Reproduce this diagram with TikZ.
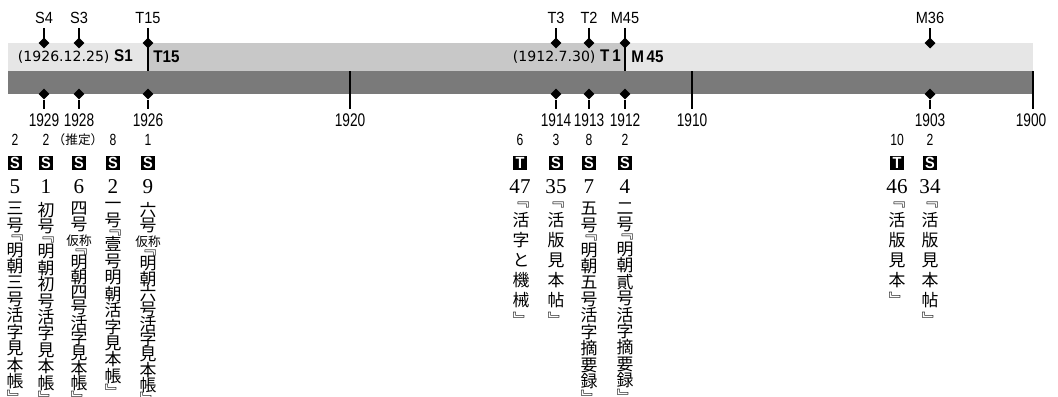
\documentclass[tikz,border=0pt]{standalone}
\usepackage{fontspec}
\usepackage{tikz}
\usetikzlibrary{shapes.geometric}
\newfontfamily\jpfont{Noto Sans CJK JP}
\newfontfamily\tagfont[FakeStretch=0.9]{Liberation Sans}
\newfontfamily\numfont[FakeStretch=0.75]{Liberation Sans}
\newfontfamily\datefont{DejaVu Sans}
\newfontfamily\serialfont{Liberation Serif}
\definecolor{eralight}{HTML}{E6E6E6}
\definecolor{eramid}{HTML}{C8C8C8}
\definecolor{bardark}{HTML}{7A7A7A}
\lineskiplimit=-20pt

\begin{document}
\begin{tikzpicture}[x=0.025cm, y=-0.025cm,
    dia/.style={diamond, fill=black, inner sep=0pt, minimum size=0.28cm},
    toplab/.style={font=\tagfont\fontsize{11.5}{11.5}\selectfont, inner sep=0.1cm},
    yearlab/.style={font=\numfont\fontsize{13}{13}\selectfont, inner sep=0.1cm},
    monlab/.style={font=\numfont\fontsize{11.5}{11.5}\selectfont, inner sep=0pt},
    badge/.style={fill=black, text=white, font=\tagfont\bfseries\fontsize{11.5}{11.5}\selectfont, minimum width=0.33cm, minimum height=0.37cm, inner sep=0pt},
    numlab/.style={font=\serialfont\fontsize{15}{15}\selectfont, inner sep=0pt},
    jcol/.style={anchor=north, align=center, inner sep=0pt, font=\jpfont\fontsize{12}{11.7}\selectfont},
    notecol/.style={jcol, font=\jpfont\fontsize{12}{10.8}\selectfont},
    shortcol/.style={jcol, font=\jpfont\fontsize{12}{14.2}\selectfont},
    stem/.style={line width=1pt}]
  \useasboundingbox (0,0) rectangle (1058,396);
  \fill[eralight] (8,43) rectangle (148,71);
  \fill[eramid] (148,43) rectangle (625,71);
  \fill[eralight] (625,43) rectangle (1033,71);
  \fill[bardark] (8,71) rectangle (1033,94);

  \node (showa) [anchor=east, inner sep=0pt] at (133,57) {{\datefont\fontsize{10}{10}\selectfont (1926.12.25)} {\tagfont\bfseries\fontsize{12}{12}\selectfont S1}};
  \node (taisho) [anchor=west, inner sep=0pt] at (153,57) {\tagfont\bfseries\fontsize{12}{12}\selectfont T15};
  \node (taisho2) [anchor=east, inner sep=0pt] at (621,57) {{\datefont\fontsize{10}{10}\selectfont (1912.7.30)} {\tagfont\bfseries\fontsize{12}{12}\selectfont T\,1}};
  \node (meiji) [anchor=west, inner sep=0pt] at (631,57) {\tagfont\bfseries\fontsize{12}{12}\selectfont M\,45};

  % top markers
  \node (S4) [toplab] at (44,18) {S4};
  \node (S3) [toplab] at (79,18) {S3};
  \node (T15) [toplab] at (148,18) {T15};
  \node (T3) [toplab] at (556,18) {T3};
  \node (T2) [toplab] at (589,18) {T2};
  \node (M45) [toplab] at (625,18) {M45};
  \node (M36) [toplab] at (930,18) {M36};
  \coordinate (eT15) at (148,71);
  \coordinate (eM45) at (625,71);
  \draw[stem] (S4) -- (44,43) (S3) -- (79,43) (T15) -- (eT15) (T3) -- (556,43) (T2) -- (589,43) (M45) -- (eM45) (M36) -- (930,43);
  \node (dS4) [dia] at (44,43) {};
  \node (dS3) [dia] at (79,43) {};
  \node (dT15) [dia] at (148,43) {};
  \node (dT3) [dia] at (556,43) {};
  \node (dT2) [dia] at (589,43) {};
  \node (dM45) [dia] at (625,43) {};
  \node (dM36) [dia] at (930,43) {};

  % years
  \node (y1929) [yearlab] at (44,120) {1929};
  \node (y1928) [yearlab] at (79,120) {1928};
  \node (y1926) [yearlab] at (148,120) {1926};
  \node (y1920) [yearlab] at (350,120) {1920};
  \node (y1914) [yearlab] at (556,120) {1914};
  \node (y1913) [yearlab] at (589,120) {1913};
  \node (y1912) [yearlab] at (625,120) {1912};
  \node (y1910) [yearlab] at (692,120) {1910};
  \node (y1903) [yearlab] at (930,120) {1903};
  \node (y1900) [yearlab] at (1031,120) {1900};
  \coordinate (t1920) at (350,71);
  \coordinate (t1910) at (692,71);
  \coordinate (t1900) at (1033,71);
  \draw[stem] (t1920) -- (y1920.north) (t1910) -- (y1910.north) (t1900) -- (t1900 |- y1900.north);
  \node (d1929) [dia] at (44,94) {};
  \node (d1928) [dia] at (79,94) {};
  \node (d1926) [dia] at (148,94) {};
  \node (d1914) [dia] at (556,94) {};
  \node (d1913) [dia] at (589,94) {};
  \node (d1912) [dia] at (625,94) {};
  \node (d1903) [dia] at (930,94) {};
  \draw[stem] (d1929) -- (y1929.north) (d1928) -- (y1928.north) (d1926) -- (y1926.north) (d1914) -- (y1914.north) (d1913) -- (y1913.north) (d1912) -- (y1912.north) (d1903) -- (y1903.north);

  % months
  \node (m5) [monlab] at (15,140) {2};
  \node (m1) [monlab] at (46,140) {2};
  \node (m6) [inner sep=0pt, font=\jpfont\fontsize{9}{9}\selectfont] at (78,140) {（推定）};
  \node (m2) [monlab] at (113,140) {8};
  \node (m9) [monlab] at (148,140) {1};
  \node (m47) [monlab] at (520,140) {6};
  \node (m35) [monlab] at (556,140) {3};
  \node (m7) [monlab] at (589,140) {8};
  \node (m4) [monlab] at (625,140) {2};
  \node (m46) [monlab] at (897,140) {10};
  \node (m34) [monlab] at (930,140) {2};

  % badges
  \node (b5) [badge] at (15,163) {S};
  \node (b1) [badge] at (46,163) {S};
  \node (b6) [badge] at (79,163) {S};
  \node (b2) [badge] at (113,163) {S};
  \node (b9) [badge] at (148,163) {S};
  \node (b47) [badge] at (520,163) {T};
  \node (b35) [badge] at (556,163) {S};
  \node (b7) [badge] at (589,163) {S};
  \node (b4) [badge] at (625,163) {S};
  \node (b46) [badge] at (897,163) {T};
  \node (b34) [badge] at (930,163) {S};

  % numbers
  \node (n5) [numlab] at (15,187) {5};
  \node (n1) [numlab] at (46,187) {1};
  \node (n6) [numlab] at (79,187) {6};
  \node (n2) [numlab] at (113,187) {2};
  \node (n9) [numlab] at (148,187) {9};
  \node (n47) [numlab] at (520,187) {47};
  \node (n35) [numlab] at (556,187) {35};
  \node (n7) [numlab] at (589,187) {7};
  \node (n4) [numlab] at (625,187) {4};
  \node (n46) [numlab] at (897,187) {46};
  \node (n34) [numlab] at (930,187) {34};

  % titles
  \node (c5) [jcol] at (15,202) {三\\号\\[-5.8pt]﹃\\明\\朝\\三\\号\\活\\字\\見\\本\\帳\\﹄};
  \node (c1) [jcol] at (46,202) {初\\号\\[-5.8pt]﹃\\明\\朝\\初\\号\\活\\字\\見\\本\\帳\\﹄};
  \node (c6) [notecol] at (79,202) {四\\号\\{\fontsize{9}{9}\selectfont 仮称}\\[-5.2pt]﹃\\明\\朝\\四\\号\\活\\字\\見\\本\\帳\\﹄};
  \node (c2) [jcol] at (113,202) {一\\号\\[-5.8pt]﹃\\壹\\号\\明\\朝\\活\\字\\見\\本\\帳\\﹄};
  \node (c9) [notecol] at (148,202) {六\\号\\{\fontsize{9}{9}\selectfont 仮称}\\[-5.2pt]﹃\\明\\朝\\六\\号\\活\\字\\見\\本\\帳\\﹄};
  \node (c47) [shortcol] at (521,202) {﹃\\活\\字\\と\\機\\械\\﹄};
  \node (c35) [shortcol] at (556,202) {﹃\\活\\版\\見\\本\\帖\\﹄};
  \node (c7) [jcol] at (589,202) {五\\号\\[-5.8pt]﹃\\明\\朝\\五\\号\\活\\字\\摘\\要\\録\\﹄};
  \node (c4) [jcol] at (625,202) {二\\号\\[-5.8pt]﹃\\明\\朝\\貳\\号\\活\\字\\摘\\要\\録\\﹄};
  \node (c46) [shortcol] at (897,202) {﹃\\活\\版\\見\\本\\﹄};
  \node (c34) [shortcol] at (930,202) {﹃\\活\\版\\見\\本\\帖\\﹄};
\end{tikzpicture}
\end{document}
